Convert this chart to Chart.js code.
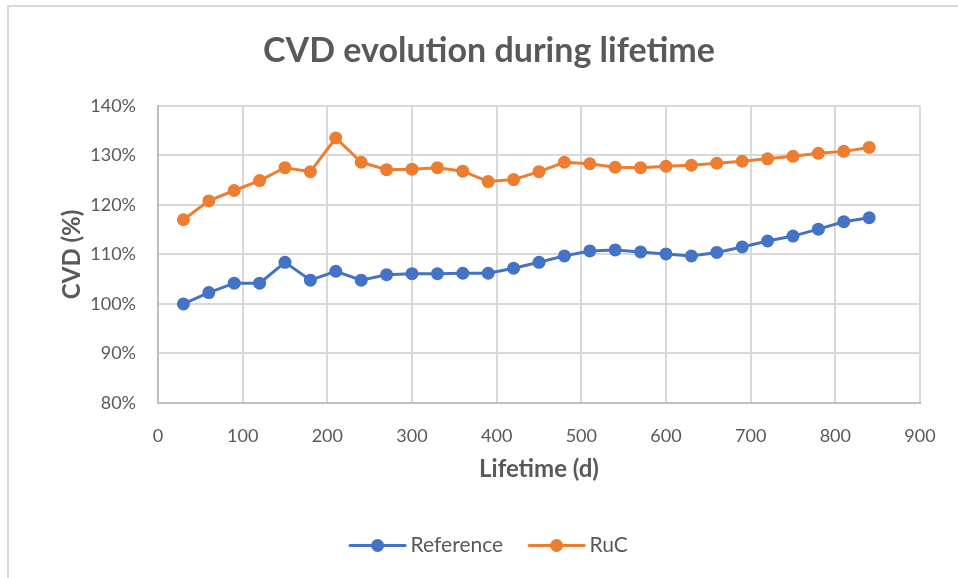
<!DOCTYPE html>
<html>
<head>
<meta charset="utf-8">
<script src="https://cdn.jsdelivr.net/npm/chart.js@4/dist/chart.umd.min.js"></script>
<style>
  html, body { margin: 0; padding: 0; background: #fff; }
  #wrap { position: relative; width: 958px; height: 578px; overflow: hidden; }
  #frame { position: absolute; left: 7px; top: 5px; width: 960px; height: 600px; border: 2px solid #d9d9d9; pointer-events: none; }
  canvas { position: absolute; left: 0; top: 0; }
</style>
</head>
<body>
<div id="wrap">
  <canvas id="cvd" width="958" height="578"></canvas>
  <div id="frame"></div>
</div>
<script>
// 数据
const days = [30, 60, 90, 120, 150, 180, 210, 240, 270, 300, 330, 360, 390, 420,
              450, 480, 510, 540, 570, 600, 630, 660, 690, 720, 750, 780, 810, 840];
const referenceValues = [100.0, 102.3, 104.2, 104.2, 108.4, 104.8, 106.6, 104.8, 105.9, 106.1,
                         106.1, 106.2, 106.2, 107.2, 108.4, 109.7, 110.7, 110.9, 110.5, 110.1,
                         109.7, 110.4, 111.5, 112.7, 113.7, 115.1, 116.6, 117.4];
const rucValues = [117.0, 120.8, 122.9, 124.9, 127.5, 126.7, 133.5, 128.6, 127.1, 127.2,
                   127.5, 126.8, 124.7, 125.1, 126.7, 128.6, 128.3, 127.6, 127.5, 127.8,
                   128.0, 128.4, 128.8, 129.3, 129.8, 130.4, 130.8, 131.6];
const seriesNames = ['Reference', 'RuC'];

const colors = { reference: '#4472C4', ruc: '#ED7D31' };
const textColor = '#595959';
const gridColor = '#d9d9d9';
const fontFamily = 'Lato, "Open Sans", sans-serif';

const toPoints = (vals) => days.map((d, i) => ({ x: d, y: vals[i] }));

// 图例：线 + 圆点（线比图例框稍长一点，文字离得近）
const legendMarker = {
  id: 'legendMarker',
  afterDraw(chart) {
    const legend = chart.legend;
    if (!legend || !legend.legendHitBoxes) return;
    const ctx = chart.ctx;
    const lineLen = 55;
    legend.legendHitBoxes.forEach((box, i) => {
      const c = chart.data.datasets[i].borderColor;
      const cy = box.top + box.height / 2;
      ctx.save();
      ctx.strokeStyle = c;
      ctx.lineWidth = 3;
      ctx.lineCap = 'round';
      ctx.beginPath();
      ctx.moveTo(box.left, cy);
      ctx.lineTo(box.left + lineLen, cy);
      ctx.stroke();
      ctx.fillStyle = c;
      ctx.beginPath();
      ctx.arc(box.left + lineLen / 2, cy, 6.5, 0, Math.PI * 2);
      ctx.fill();
      ctx.restore();
    });
  }
};

const makeDataset = (label, values, color) => ({
  label,
  data: toPoints(values),
  borderColor: color,
  backgroundColor: color,
  borderWidth: 3,
  pointRadius: 6.5,
  pointHoverRadius: 6.5,
  pointBorderWidth: 0,
  tension: 0
});

const ctx = document.getElementById('cvd').getContext('2d');
new Chart(ctx, {
  type: 'line',
  data: {
    datasets: [
      makeDataset(seriesNames[0], referenceValues, colors.reference),
      makeDataset(seriesNames[1], rucValues, colors.ruc)
    ]
  },
  options: {
    responsive: false,
    animation: false,
    layout: { padding: { left: 58, right: 38, top: 31, bottom: 12 } },
    plugins: {
      title: {
        display: true,
        text: 'CVD evolution during lifetime',
        color: textColor,
        font: { family: fontFamily, size: 34, weight: 'bold' },
        padding: { top: 0, bottom: 34 }
      },
      legend: {
        position: 'bottom',
        labels: {
          boxWidth: 50,
          boxHeight: 4,
          padding: 26,
          color: textColor,
          font: { family: fontFamily, size: 21 },
          generateLabels: (chart) => chart.data.datasets.map((ds, i) => ({
            text: ds.label,
            fillStyle: 'rgba(0,0,0,0)',
            strokeStyle: 'rgba(0,0,0,0)',
            lineWidth: 0,
            fontColor: textColor,
            hidden: false,
            datasetIndex: i
          }))
        }
      },
      tooltip: { enabled: false }
    },
    scales: {
      x: {
        type: 'linear',
        min: 0,
        max: 900,
        afterFit: (scale) => { scale.height = 106; },
        ticks: {
          stepSize: 100,
          padding: 22,
          color: textColor,
          font: { family: fontFamily, size: 18 }
        },
        grid: { color: gridColor, lineWidth: 2, drawTicks: false },
        border: { color: '#bfbfbf', width: 2 },
        title: {
          display: true,
          text: 'Lifetime (d)',
          color: textColor,
          font: { family: fontFamily, size: 24, weight: 'bold' },
          padding: { top: 0, bottom: 25 }
        }
      },
      y: {
        min: 80,
        max: 140,
        afterFit: (scale) => { scale.width = 100; },
        ticks: {
          stepSize: 10,
          padding: 22,
          color: textColor,
          font: { family: fontFamily, size: 18 },
          callback: (v) => v + '%'
        },
        grid: { color: gridColor, lineWidth: 2, drawTicks: false },
        border: { color: '#bfbfbf', width: 2 },
        title: {
          display: true,
          text: 'CVD (%)',
          color: textColor,
          font: { family: fontFamily, size: 24, weight: 'bold' },
          padding: { top: 0, bottom: 0 }
        }
      }
    }
  },
  plugins: [legendMarker]
});
</script>
</body>
</html>
